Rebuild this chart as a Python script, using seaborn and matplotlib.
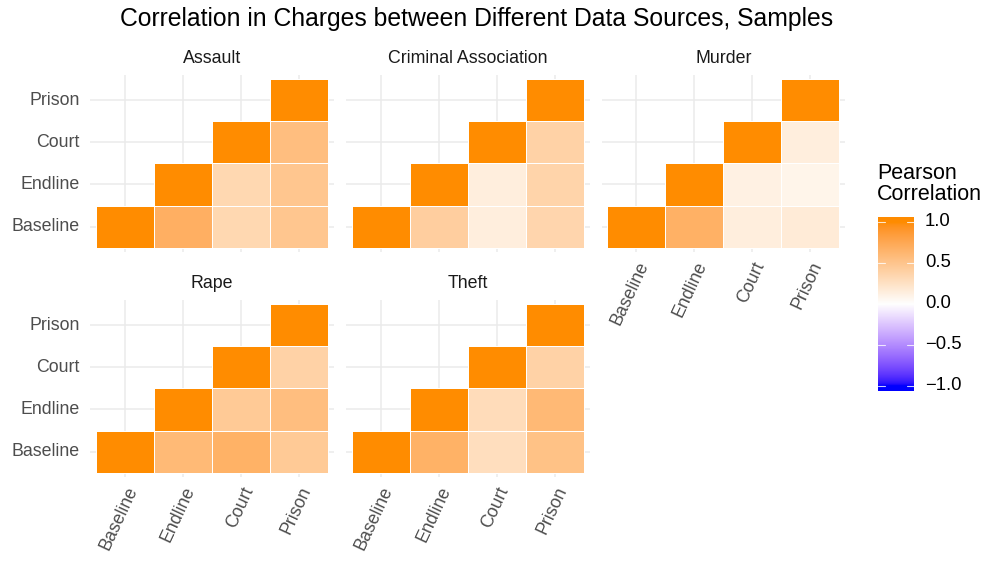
import numpy as np
import pandas as pd
import matplotlib
matplotlib.use("Agg")
import matplotlib.pyplot as plt
from matplotlib.colors import ListedColormap, to_rgb
import seaborn as sns

sns.set_style("white")
plt.rcParams['font.family'] = ['Liberation Sans', 'DejaVu Sans']

# ---------------- data ----------------
sources = ["Baseline", "Endline", "Court", "Prison"]
crimes = ["Assault", "Criminal Association", "Murder", "Rape", "Theft"]
# lower-triangle correlations: pairs (Endline,Baseline),(Court,Baseline),(Prison,Baseline),
# (Court,Endline),(Prison,Endline),(Prison,Court)
assault = [0.69, 0.34, 0.49, 0.34, 0.49, 0.56]
criminal_association = [0.42, 0.15, 0.36, 0.15, 0.37, 0.39]
murder = [0.68, 0.15, 0.17, 0.12, 0.09, 0.15]
rape = [0.60, 0.67, 0.46, 0.46, 0.56, 0.39]
theft = [0.67, 0.28, 0.53, 0.30, 0.61, 0.39]
pair_x = ["Endline", "Court", "Prison", "Court", "Prison", "Prison"]
pair_y = ["Baseline", "Baseline", "Baseline", "Endline", "Endline", "Court"]
values = {"Assault": assault, "Criminal Association": criminal_association,
          "Murder": murder, "Rape": rape, "Theft": theft}

# ---------------- colour map (Lab interpolation like ggplot gradient2) ----------------
M = np.array([[0.4124564, 0.3575761, 0.1804375],
              [0.2126729, 0.7151522, 0.0721750],
              [0.0193339, 0.1191920, 0.9503041]])
WP = np.array([0.95047, 1.0, 1.08883])

def srgb_to_lab(rgb):
    rgb = np.asarray(rgb, float)
    lin = np.where(rgb <= 0.04045, rgb / 12.92, ((rgb + 0.055) / 1.055) ** 2.4)
    xyz = lin @ M.T / WP
    f = np.where(xyz > 216 / 24389, np.cbrt(xyz), (24389 / 27 * xyz + 16) / 116)
    return np.stack([116 * f[..., 1] - 16, 500 * (f[..., 0] - f[..., 1]),
                     200 * (f[..., 1] - f[..., 2])], -1)

def lab_to_srgb(lab):
    lab = np.asarray(lab, float)
    fy = (lab[..., 0] + 16) / 116
    fx = fy + lab[..., 1] / 500
    fz = fy - lab[..., 2] / 200
    f = np.stack([fx, fy, fz], -1)
    xyz = np.where(f ** 3 > 216 / 24389, f ** 3, (116 * f - 16) / (24389 / 27))
    xyz = xyz * WP
    lin = np.clip(xyz @ np.linalg.inv(M).T, 0, 1)
    rgb = np.where(lin <= 0.0031308, lin * 12.92, 1.055 * lin ** (1 / 2.4) - 0.055)
    return np.clip(rgb, 0, 1)

low, mid, high = (srgb_to_lab(to_rgb("blue")), srgb_to_lab(to_rgb("white")),
                  srgb_to_lab(to_rgb("darkorange")))
t = np.linspace(-1, 1, 513)
labs = np.array([mid + (high - mid) * v if v >= 0 else mid + (low - mid) * (-v) for v in t])
cmap = ListedColormap(lab_to_srgb(labs))

# ---------------- figure ----------------
W, H = 989, 561
fig = plt.figure(figsize=(W / 100, H / 100), dpi=100)

def axes_px(l, t_, r, b):
    return fig.add_axes([l / W, 1 - b / H, (r - l) / W, (b - t_) / H])

lefts = [(90.2, 334.1), (345.9, 589.8), (601.5, 845.1)]
rows = [(74.8, 251.9), (299.8, 476.9)]
grid_col = "#EBEBEB"
tick_col = "#4D4D4D"

for i, crime in enumerate(crimes):
    r, c = divmod(i, 3)
    (l, rr), (tp, bt) = lefts[c], rows[r]
    ax = axes_px(l, tp, rr, bt)
    mat = pd.DataFrame(np.nan, index=sources, columns=sources)
    for s in sources:
        mat.loc[s, s] = 1.0
    for xv, yv, v in zip(pair_x, pair_y, values[crime]):
        mat.loc[yv, xv] = v
    sns.heatmap(mat, ax=ax, cmap=cmap, vmin=-1, vmax=1, cbar=False,
                linewidths=0.7, linecolor="white", square=False)
    # white borders only for drawn tiles (masked cells transparent)
    mesh = ax.collections[0]
    valid = ~np.isnan(mat.values.ravel())
    ec = np.zeros((valid.size, 4))
    ec[valid] = [1, 1, 1, 1]
    mesh.set_edgecolor(ec)
    ax.set_xlim(-0.1, 4.1)
    ax.set_ylim(-0.1, 4.1)
    ax.set_xticks(np.arange(4) + 0.5)
    ax.set_yticks(np.arange(4) + 0.5)
    ax.grid(True, color=grid_col, linewidth=1.1)
    ax.set_axisbelow(True)
    ax.tick_params(length=0, pad=7.5)
    ax.set_xlabel("")
    ax.set_ylabel("")
    if c == 0:
        ax.set_yticklabels(sources, rotation=0, fontsize=12.8, color=tick_col)
    else:
        ax.set_yticklabels([])
    if r == 1 or crime == "Murder":
        ax.set_xticklabels(sources, rotation=65, ha="right", va="top",
                           rotation_mode="anchor", fontsize=12.8, color=tick_col)
        ax.tick_params(axis="x", pad=5)
    else:
        ax.set_xticklabels([])
    for sp in ax.spines.values():
        sp.set_visible(False)
    ax.set_title(crime, fontsize=12.8, color="#1A1A1A", pad=8.5)

fig.text(477 / W, 1 - 19 / H, "Correlation in Charges between Different Data Sources, Samples",
         ha="center", va="center", fontsize=17.8, color="black")

# ---------------- legend colour bar ----------------
cax = axes_px(878, 216.7, 914, 390.7)
ext = 1.06
grad = np.linspace(-ext, ext, 300).reshape(-1, 1)
cax.imshow(np.clip(grad, -1, 1), cmap=cmap, vmin=-1, vmax=1, aspect="auto",
           origin="lower", extent=[0, 1, -ext, ext])
cax.set_xlim(0, 1)
cax.set_ylim(-ext, ext)
cax.set_xticks([])
cax.set_yticks([])
for sp in cax.spines.values():
    sp.set_visible(False)
for v in [-1, -0.5, 0, 0.5, 1]:
    cax.plot([0, 0.2], [v, v], color="white", lw=0.8, alpha=0.8)
    cax.plot([0.8, 1], [v, v], color="white", lw=0.8, alpha=0.8)
    cax.text(1.3, v, f"{v:.1f}".replace("-", "\u2212"), transform=cax.transData,
             ha="left", va="center", fontsize=13.3, color="black")
fig.text(877 / W, 1 - 184 / H, "Pearson\nCorrelation", ha="left", va="center",
         fontsize=15.5, color="black", linespacing=1.05)

fig.savefig("out.png", dpi=100)
